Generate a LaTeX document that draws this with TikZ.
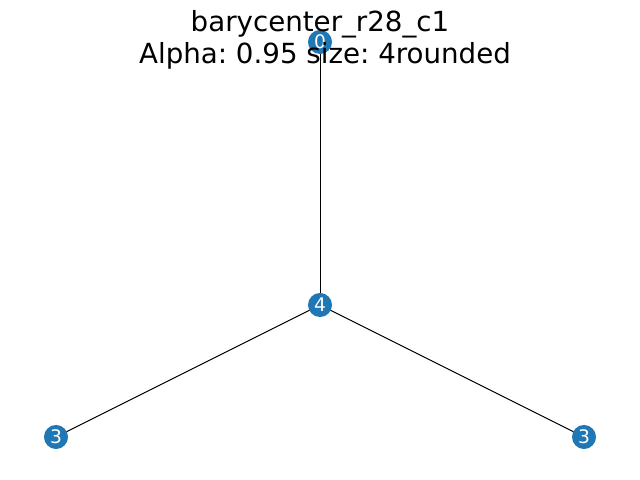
\documentclass[tikz,border=0pt]{standalone}
\usepackage{fontspec}
\setmainfont{DejaVu Sans}
\frenchspacing
\begin{document}
\begin{tikzpicture}[x=0.01in,y=-0.01in,
  vertex/.style={circle,fill={rgb,255:red,31;green,119;blue,180},minimum size=0.24in,inner sep=0pt,text=white,font=\fontsize{13.5pt}{16pt}\selectfont},
  edge/.style={draw=black,line width=0.72pt},
  titletext/.style={anchor=base,inner sep=0pt,font=\fontsize{20pt}{24pt}\selectfont}]
\useasboundingbox (0,0) rectangle (640,480);
\coordinate (p0) at (320,42);
\coordinate (p4) at (320,305);
\coordinate (pa) at (56,437);
\coordinate (pb) at (584,437);
\draw[edge] (p0) -- (p4);
\draw[edge] (p4) -- (pa);
\draw[edge] (p4) -- (pb);
\node[vertex] (n0) at (p0) {0};
\node[vertex] (n4) at (p4) {4};
\node[vertex] (n3a) at (pa) {3};
\node[vertex] (n3b) at (pb) {3};
\node[titletext] (t1) at (320,32) {barycenter\_r28\_c1};
\node[titletext] (t2) at (325,64) {Alpha: 0.95 size: 4rounded};
\end{tikzpicture}
\end{document}
